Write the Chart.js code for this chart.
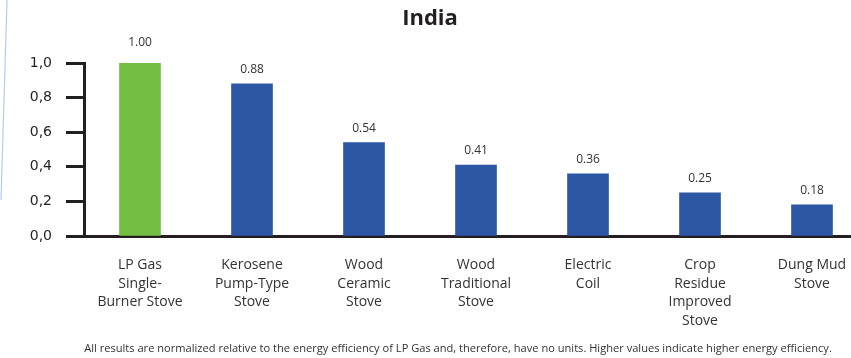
<!DOCTYPE html>
<html>
<head>
<meta charset="utf-8">
<title>India – relative stove energy efficiency</title>
<script src="https://cdn.jsdelivr.net/npm/chart.js@4/dist/chart.umd.min.js"></script>
<style>
  html, body { margin: 0; padding: 0; background: #ffffff; overflow: hidden; }
  #wrap { width: 851px; height: 358px; overflow: hidden; position: relative; }
  canvas { display: block; }
</style>
</head>
<body>
<div id="wrap"><canvas id="chart" width="870" height="358"></canvas></div>
<script>
// Stove types (multi-line category labels)
const categories = [
  ["LP Gas", "Single-", "Burner Stove"],
  ["Kerosene", "Pump-Type", "Stove"],
  ["Wood", "Ceramic", "Stove"],
  ["Wood", "Traditional", "Stove"],
  ["Electric", "Coil"],
  ["Crop", "Residue", "Improved", "Stove"],
  ["Dung Mud", "Stove"]
];
// Energy efficiency normalised to LP Gas
const efficiency = [1.00, 0.88, 0.54, 0.41, 0.36, 0.25, 0.18];
// Y-axis tick values
const yTicks = [0, 0.2, 0.4, 0.6, 0.8, 1.0];

const chartTitle = "India";
const footnote = "All results are normalized relative to the energy efficiency of LP Gas and, therefore, have no units. Higher values indicate higher energy efficiency.";

const GREEN = "#72bf44";
const BLUE = "#2d56a4";
const AXIS = "#231f20";
const TEXT = "#333333";
const FONT = "'Open Sans', 'Noto Sans', sans-serif";

// Value labels above bars, title, footnote and the thin decorative edge line
const annotate = {
  id: "annotate",
  beforeDraw(chart) {
    const ctx = chart.ctx;
    ctx.save();
    ctx.strokeStyle = "rgba(150, 190, 230, 0.75)";
    ctx.lineWidth = 1.2;
    ctx.beginPath();
    ctx.moveTo(7, 0);
    ctx.lineTo(1, 200);
    ctx.stroke();
    ctx.restore();
  },
  afterDatasetsDraw(chart) {
    const ctx = chart.ctx;
    const meta = chart.getDatasetMeta(0);
    ctx.save();
    ctx.fillStyle = TEXT;
    ctx.font = "12px " + FONT;
    ctx.textAlign = "center";
    ctx.textBaseline = "bottom";
    meta.data.forEach((bar, i) => {
      // the full-height reference bar gets a little more headroom
      const gap = efficiency[i] === 1 ? 14 : 8;
      ctx.fillText(efficiency[i].toFixed(2), bar.x, bar.y - gap);
    });
    ctx.restore();
  },
  afterDraw(chart) {
    const ctx = chart.ctx;
    ctx.save();
    ctx.textAlign = "center";
    ctx.textBaseline = "middle";
    ctx.fillStyle = "#231f20";
    ctx.font = "bold 22px " + FONT;
    ctx.fillText(chartTitle, 430, 19);
    ctx.fillStyle = TEXT;
    ctx.font = "11.1px " + FONT;
    ctx.fillText(footnote, 458, 349);
    ctx.restore();
  }
};

new Chart(document.getElementById("chart"), {
  type: "bar",
  data: {
    labels: categories,
    datasets: [{
      data: efficiency,
      backgroundColor: ctx => (efficiency[ctx.dataIndex] === 1 ? GREEN : BLUE),
      barThickness: 41,
      borderWidth: 0
    }]
  },
  options: {
    responsive: false,
    animation: false,
    devicePixelRatio: 1,
    layout: { padding: { top: 63, bottom: 0, left: 0, right: 2 } },
    plugins: {
      legend: { display: false },
      title: { display: false },
      tooltip: { enabled: false }
    },
    scales: {
      x: {
        offset: true,
        grid: { display: false, drawTicks: false },
        border: { display: true, color: AXIS, width: 3 },
        ticks: {
          color: TEXT,
          font: { family: FONT, size: 14, lineHeight: 1.32 },
          padding: 20,
          maxRotation: 0,
          autoSkip: false
        },
        afterFit: s => { s.height = 122; }
      },
      y: {
        min: 0,
        max: 1,
        afterBuildTicks: s => { s.ticks = yTicks.map(v => ({ value: v })); },
        grid: {
          drawOnChartArea: false,
          drawTicks: true,
          tickLength: 18,
          tickWidth: 3,
          tickColor: AXIS
        },
        border: { display: true, color: AXIS, width: 3 },
        ticks: {
          color: AXIS,
          font: { family: "'DejaVu Sans', sans-serif", size: 14 },
          padding: 14,
          callback: v => Number(v).toFixed(1).replace(".", ",")
        },
        afterFit: s => { s.width = 84; }
      }
    }
  },
  plugins: [annotate]
});
</script>
</body>
</html>
